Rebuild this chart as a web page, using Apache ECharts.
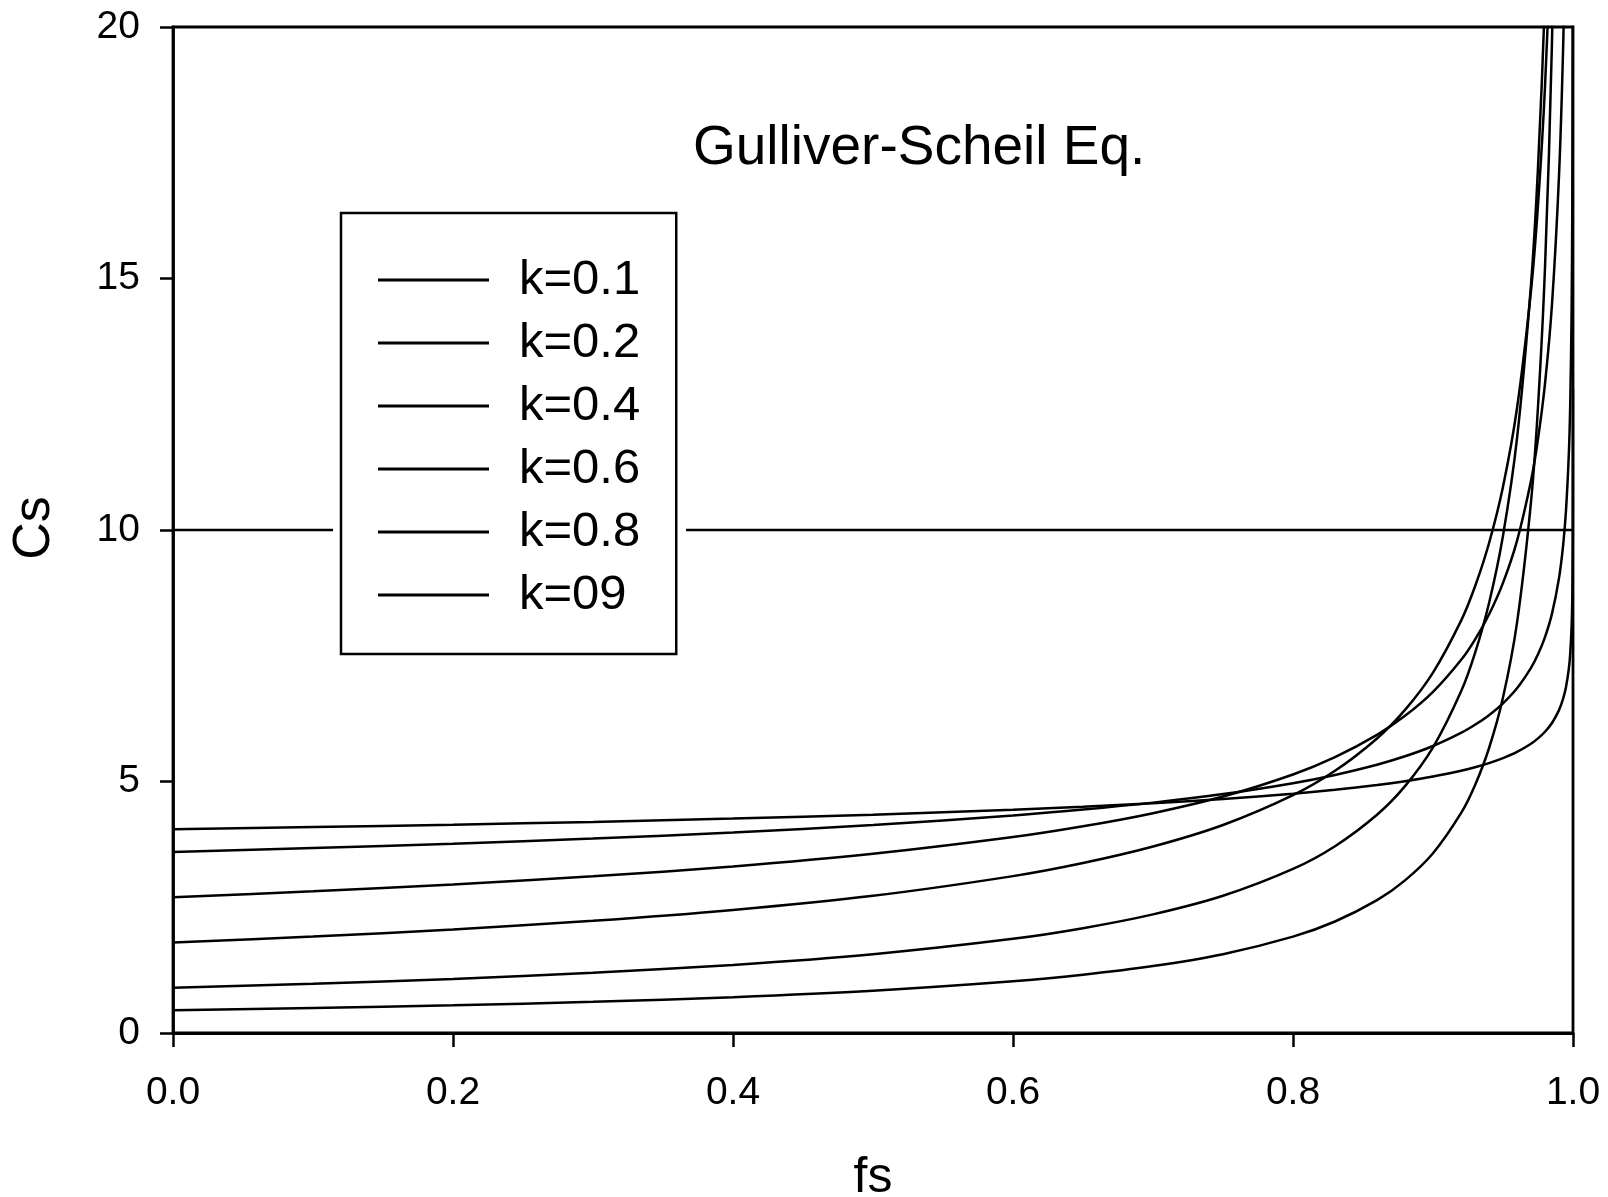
<!DOCTYPE html>
<html>
<head>
<meta charset="utf-8">
<script src="https://cdn.jsdelivr.net/npm/echarts@6/dist/echarts.min.js"></script>
<style>
  html, body { margin: 0; padding: 0; background: #fff; }
  #chart { width: 1608px; height: 1197px; }
</style>
</head>
<body>
<div id="chart"></div>
<script>
// Solid fraction fs (shared sampling for every curve)
const fs = [0, 0.1, 0.2, 0.3, 0.4, 0.5, 0.6, 0.65, 0.7, 0.75, 0.8, 0.83, 0.86, 0.88, 0.9,
  0.92, 0.93, 0.94, 0.95, 0.96, 0.97, 0.975, 0.98, 0.985, 0.99, 0.993, 0.995, 0.997,
  0.998, 0.999, 0.9995, 0.9998, 0.9999, 0.99999];

// Solid composition Cs for each partition coefficient k
const csK01 = [0.450, 0.495, 0.550, 0.620, 0.713, 0.840, 1.027, 1.158, 1.330, 1.567, 1.916,
  2.217, 2.641, 3.034, 3.574, 4.370, 4.927, 5.661, 6.670, 8.154, 10.56, 12.45, 15.22,
  19.71, 28.39, 39.1, 53.0, 83.9, 120.8, 225.5, 420.8, 960, 1791, 14230];
const csK02 = [0.900, 0.979, 1.076, 1.197, 1.354, 1.567, 1.873, 2.084, 2.358, 2.728, 3.262,
  3.714, 4.339, 4.908, 5.679, 6.788, 7.554, 8.545, 9.887, 11.82, 14.88, 17.21, 20.58,
  25.90, 35.83, 47.7, 62.4, 93.9, 129.8, 226.1, 393.6, 819.5, 1426, 9000];
const csK04 = [1.800, 1.917, 2.058, 2.230, 2.446, 2.728, 3.119, 3.379, 3.707, 4.135, 4.728,
  5.212, 5.856, 6.423, 7.166, 8.193, 8.876, 9.736, 10.86, 12.42, 14.76, 16.46, 18.82,
  22.37, 28.53, 35.34, 43.24, 58.75, 74.93, 113.6, 172.1, 298.3, 452.1, 1800];
const csK06 = [2.700, 2.816, 2.952, 3.114, 3.312, 3.563, 3.895, 4.109, 4.370, 4.701, 5.140,
  5.485, 5.928, 6.305, 6.782, 7.415, 7.822, 8.320, 8.949, 9.785, 10.98, 11.81, 12.91,
  14.49, 17.04, 19.65, 22.48, 27.58, 32.43, 42.79, 56.46, 81.46, 107.5, 270];
const csK08 = [3.600, 3.677, 3.764, 3.866, 3.987, 4.135, 4.324, 4.441, 4.580, 4.750, 4.967,
  5.131, 5.334, 5.501, 5.706, 5.966, 6.128, 6.319, 6.554, 6.853, 7.259, 7.529, 7.872,
  8.338, 9.043, 9.711, 10.39, 11.50, 12.48, 14.33, 16.46, 19.77, 22.71, 36.0];
const csK09 = [4.050, 4.093, 4.141, 4.197, 4.262, 4.341, 4.439, 4.498, 4.568, 4.652, 4.757,
  4.835, 4.930, 5.007, 5.099, 5.214, 5.284, 5.366, 5.465, 5.588, 5.751, 5.857, 5.989,
  6.164, 6.419, 6.652, 6.880, 7.240, 7.540, 8.081, 8.661, 9.492, 10.17, 12.81];

const seriesNames = ['k=0.1', 'k=0.2', 'k=0.4', 'k=0.6', 'k=0.8', 'k=09'];
const seriesValues = [csK01, csK02, csK04, csK06, csK08, csK09];

// Horizontal reference level
const refLevel = 10;

const chartTitle = 'Gulliver-Scheil Eq.';
const xName = 'fs';
const yName = 'Cs';

const FONT = "'Liberation Sans', Arial, Helvetica, sans-serif";
const toPairs = vals => fs.map((x, i) => [x, vals[i]]);

const curveSeries = seriesNames.map((name, i) => ({
  name: name,
  type: 'line',
  data: toPairs(seriesValues[i]),
  symbol: 'none',
  showSymbol: false,
  smooth: 0.3,
  clip: true,
  z: 3,
  itemStyle: { color: '#000' },
  lineStyle: { color: '#000', width: 2.5 }
}));

const chart = echarts.init(document.getElementById('chart'), null, { renderer: 'canvas' });

chart.setOption({
  animation: false,
  backgroundColor: '#fff',
  color: ['#000'],
  grid: {
    left: 173, right: 35, top: 27, bottom: 164,
    show: true, borderColor: '#000', borderWidth: 2.8, backgroundColor: 'transparent'
  },
  xAxis: {
    type: 'value', min: 0, max: 1, interval: 0.2,
    axisLine: { show: true, lineStyle: { color: '#000', width: 2.8 } },
    axisTick: { show: true, inside: false, length: 14, lineStyle: { color: '#000', width: 2.5 } },
    axisLabel: { margin: 41, fontSize: 39, color: '#000', fontFamily: FONT,
      formatter: v => v.toFixed(1) },
    splitLine: { show: false }
  },
  yAxis: {
    type: 'value', min: 0, max: 20, interval: 5,
    axisLine: { show: true, lineStyle: { color: '#000', width: 2.8 } },
    axisTick: { show: true, inside: false, length: 13, lineStyle: { color: '#000', width: 2.5 } },
    axisLabel: { margin: 33, fontSize: 39, color: '#000', fontFamily: FONT },
    splitLine: { show: false }
  },
  legend: {
    orient: 'vertical',
    left: 341, top: 213, z: 20,
    data: seriesNames,
    icon: 'rect', itemWidth: 111, itemHeight: 3, itemGap: 7,
    padding: [39, 36, 31, 37],
    backgroundColor: '#fff', borderColor: '#000', borderWidth: 2.5,
    selectedMode: false,
    textStyle: { fontSize: 49, lineHeight: 56, fontFamily: FONT, color: '#000',
      padding: [0, 0, 0, 25] }
  },
  graphic: [
    { type: 'rect', z: 10, shape: { x: 333, y: 213, width: 353, height: 441 },
      style: { fill: '#fff' } },
    { type: 'text', z: 20, x: 693, y: 149,
      style: { text: chartTitle, fontSize: 55, fontFamily: FONT, fill: '#000',
        align: 'left', verticalAlign: 'middle' } },
    { type: 'text', z: 20, x: 35, y: 528, rotation: Math.PI / 2,
      style: { text: yName, fontSize: 52, fontFamily: FONT, fill: '#000',
        align: 'center', verticalAlign: 'middle' } },
    { type: 'text', z: 20, x: 873, y: 1178,
      style: { text: xName, fontSize: 50, fontFamily: FONT, fill: '#000',
        align: 'center', verticalAlign: 'middle' } }
  ],
  series: curveSeries.concat([{
    name: 'Cs = 10',
    type: 'line',
    data: [[0, refLevel], [1, refLevel]],
    symbol: 'none',
    z: 3,
    itemStyle: { color: '#000' },
    lineStyle: { color: '#000', width: 2.5 }
  }])
});
</script>
</body>
</html>
